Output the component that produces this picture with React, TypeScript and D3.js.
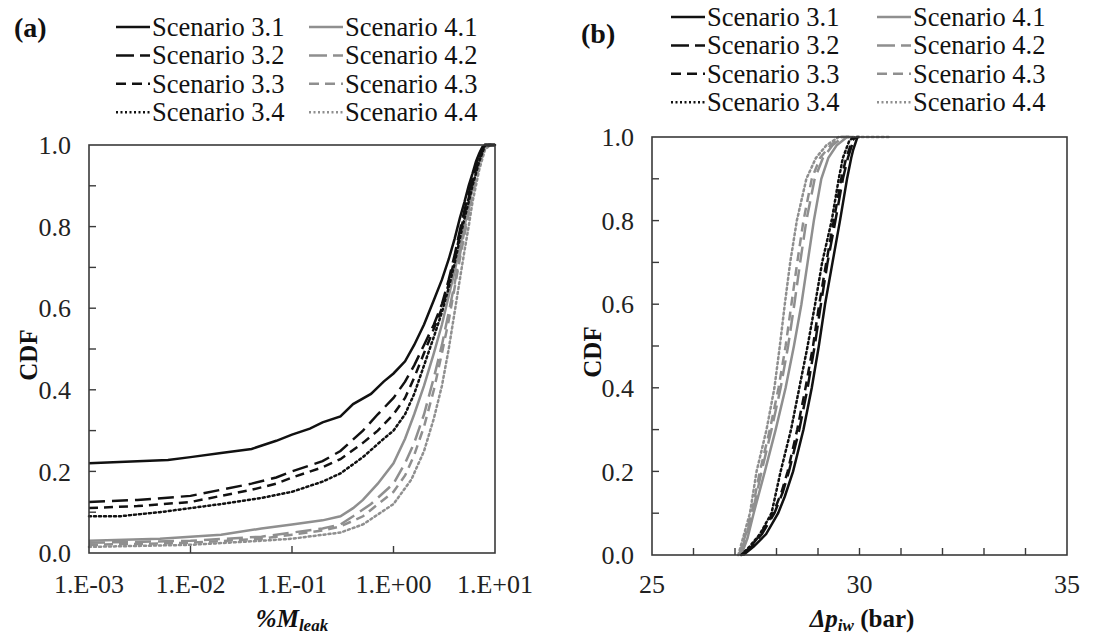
import React from "react";
import * as d3 from "d3";

// ---------- data ----------
const scenarioLabels = [
  "Scenario 3.1", "Scenario 3.2", "Scenario 3.3", "Scenario 3.4",
  "Scenario 4.1", "Scenario 4.2", "Scenario 4.3", "Scenario 4.4",
];

// panel (a): [%M_leak, CDF]
const leakS31: [number, number][] = [[1e-3,0.22],[3e-3,0.225],[6e-3,0.228],[0.01,0.235],[0.02,0.245],[0.04,0.255],[0.07,0.275],[0.1,0.29],[0.15,0.305],[0.2,0.32],[0.3,0.335],[0.4,0.365],[0.6,0.39],[0.8,0.42],[1.0,0.44],[1.3,0.47],[1.6,0.51],[2.0,0.56],[2.5,0.62],[3.0,0.67],[3.5,0.72],[4.0,0.77],[4.5,0.82],[5.0,0.86],[5.5,0.9],[6.0,0.93],[6.5,0.96],[7.0,0.98],[7.5,0.995],[8,1.0],[10,1.0]];
const leakS32: [number, number][] = [[1e-3,0.125],[3e-3,0.13],[0.01,0.14],[0.02,0.155],[0.04,0.17],[0.07,0.185],[0.1,0.2],[0.2,0.225],[0.3,0.25],[0.5,0.3],[0.7,0.34],[1.0,0.38],[1.3,0.42],[1.6,0.46],[2.0,0.51],[2.5,0.56],[3.0,0.61],[3.5,0.67],[4,0.73],[4.5,0.79],[5,0.84],[5.5,0.88],[6,0.92],[6.5,0.95],[7,0.98],[8,1.0],[10,1.0]];
const leakS33: [number, number][] = [[1e-3,0.11],[3e-3,0.115],[0.01,0.125],[0.02,0.14],[0.04,0.155],[0.07,0.17],[0.1,0.185],[0.2,0.21],[0.3,0.23],[0.5,0.27],[0.7,0.3],[1.0,0.34],[1.3,0.38],[1.6,0.43],[2.0,0.49],[2.5,0.55],[3.0,0.6],[3.5,0.66],[4,0.72],[4.5,0.78],[5,0.83],[5.5,0.87],[6,0.91],[7,0.97],[8,1.0],[10,1.0]];
const leakS34: [number, number][] = [[1e-3,0.09],[2e-3,0.09],[5e-3,0.1],[0.01,0.11],[0.02,0.12],[0.05,0.135],[0.1,0.15],[0.2,0.175],[0.3,0.195],[0.5,0.235],[0.8,0.28],[1.0,0.3],[1.3,0.34],[1.6,0.39],[2.0,0.46],[2.5,0.53],[3.0,0.59],[3.5,0.65],[4,0.71],[4.5,0.77],[5,0.82],[5.5,0.86],[6,0.9],[7,0.96],[8,1.0],[10,1.0]];
const leakS41: [number, number][] = [[1e-3,0.03],[5e-3,0.035],[0.01,0.04],[0.02,0.045],[0.05,0.06],[0.1,0.07],[0.2,0.08],[0.3,0.09],[0.4,0.11],[0.5,0.13],[0.7,0.17],[1.0,0.22],[1.3,0.28],[1.6,0.34],[2.0,0.41],[2.5,0.49],[3.0,0.56],[3.5,0.63],[4,0.69],[4.5,0.75],[5,0.8],[5.5,0.85],[6,0.9],[7,0.96],[8,1.0],[10,1.0]];
const leakS42: [number, number][] = [[1e-3,0.025],[0.01,0.03],[0.05,0.04],[0.1,0.05],[0.2,0.06],[0.3,0.07],[0.4,0.09],[0.6,0.12],[1.0,0.17],[1.3,0.22],[1.6,0.27],[2.0,0.34],[2.5,0.43],[3.0,0.51],[3.5,0.59],[4,0.66],[4.5,0.73],[5,0.79],[5.5,0.84],[6,0.89],[7,0.96],[8,1.0],[10,1.0]];
const leakS43: [number, number][] = [[1e-3,0.02],[0.01,0.025],[0.05,0.035],[0.1,0.045],[0.2,0.055],[0.3,0.065],[0.5,0.09],[1.0,0.15],[1.3,0.19],[1.6,0.24],[2.0,0.31],[2.5,0.4],[3.0,0.49],[3.5,0.57],[4,0.65],[4.5,0.72],[5,0.78],[5.5,0.83],[6,0.88],[7,0.95],[8,1.0],[10,1.0]];
const leakS44: [number, number][] = [[1e-3,0.015],[0.01,0.02],[0.05,0.03],[0.1,0.035],[0.3,0.05],[0.5,0.07],[1.0,0.12],[1.5,0.18],[2.0,0.25],[2.5,0.33],[3.0,0.41],[3.5,0.5],[4,0.59],[4.5,0.67],[5,0.74],[5.5,0.8],[6,0.86],[7,0.94],[8,0.99],[9,1.0],[10,1.0]];

// panel (b): [Δp_iw (bar), CDF]
const dpS31: [number, number][] = [[27.2,0],[27.45,0.02],[27.75,0.05],[28.04,0.1],[28.2,0.14],[28.4,0.2],[28.65,0.3],[28.85,0.4],[29.02,0.5],[29.17,0.6],[29.35,0.7],[29.53,0.8],[29.7,0.9],[29.8,0.95],[29.85,0.97],[29.95,1.0],[30.0,1.0]];
const dpS32: [number, number][] = [[27.18,0],[27.4,0.02],[27.65,0.05],[27.95,0.1],[28.15,0.15],[28.3,0.2],[28.55,0.3],[28.75,0.4],[28.92,0.5],[29.07,0.6],[29.23,0.7],[29.42,0.8],[29.6,0.9],[29.72,0.95],[29.85,0.99],[29.95,1.0]];
const dpS33: [number, number][] = [[27.16,0],[27.38,0.02],[27.62,0.05],[27.92,0.1],[28.12,0.15],[28.27,0.2],[28.5,0.3],[28.7,0.4],[28.88,0.5],[29.03,0.6],[29.2,0.7],[29.38,0.8],[29.56,0.9],[29.68,0.95],[29.82,0.99],[29.9,1.0]];
const dpS34: [number, number][] = [[27.15,0],[27.35,0.02],[27.6,0.05],[27.88,0.1],[28.1,0.2],[28.35,0.3],[28.55,0.4],[28.75,0.5],[28.93,0.6],[29.1,0.7],[29.33,0.8],[29.5,0.9],[29.6,0.95],[29.75,0.99],[29.85,1.0]];
const dpS41: [number, number][] = [[27.15,0],[27.3,0.04],[27.45,0.1],[27.72,0.2],[27.98,0.3],[28.22,0.4],[28.42,0.5],[28.6,0.6],[28.75,0.7],[28.9,0.8],[29.08,0.9],[29.25,0.95],[29.45,0.98],[29.7,1.0],[29.8,1.0]];
const dpS42: [number, number][] = [[27.12,0],[27.28,0.05],[27.42,0.1],[27.64,0.2],[27.88,0.3],[28.1,0.4],[28.28,0.5],[28.43,0.6],[28.57,0.7],[28.72,0.8],[28.92,0.9],[29.12,0.95],[29.35,0.98],[29.6,1.0],[29.7,1.0]];
const dpS43: [number, number][] = [[27.1,0],[27.26,0.05],[27.4,0.1],[27.6,0.2],[27.84,0.3],[28.05,0.4],[28.22,0.5],[28.36,0.6],[28.5,0.7],[28.65,0.8],[28.85,0.9],[29.05,0.95],[29.3,0.98],[29.55,1.0],[29.8,1.0]];
const dpS44: [number, number][] = [[27.08,0],[27.22,0.05],[27.36,0.1],[27.52,0.2],[27.76,0.3],[27.95,0.4],[28.08,0.5],[28.2,0.6],[28.33,0.7],[28.49,0.8],[28.72,0.9],[28.95,0.95],[29.2,0.98],[29.5,1.0],[30.7,1.0]];

const cdfTicks = [0, 0.2, 0.4, 0.6, 0.8, 1.0];
const cdfTickLabels = ["0.0", "0.2", "0.4", "0.6", "0.8", "1.0"];
const cdfMinorTicks = [0.1, 0.2, 0.3, 0.4, 0.5, 0.6, 0.7, 0.8, 0.9];
const leakTicks = [1e-3, 1e-2, 1e-1, 1, 10];
const leakTickLabels = ["1.E-03", "1.E-02", "1.E-01", "1.E+00", "1.E+01"];
const dpTicks = [25, 30, 35];
const dpTickLabels = ["25", "30", "35"];
const dpMinorTicks = [26, 27, 28, 29, 30, 31, 32, 33, 34];

// ---------- styles ----------
const BLACK = "#111";
const GRAY = "#8f8f8f";
const styles = [
  { color: BLACK, dash: "" },
  { color: BLACK, dash: "16 7" },
  { color: BLACK, dash: "9 6" },
  { color: BLACK, dash: "2 3" },
  { color: GRAY, dash: "" },
  { color: GRAY, dash: "16 7" },
  { color: GRAY, dash: "9 6" },
  { color: GRAY, dash: "2 3" },
];
const legendDash = ["", "18 6", "10 6", "2 2.5", "", "18 6", "10 6", "2 2.5"];
const FONT = "Liberation Serif, Times New Roman, serif";

type Pt = [number, number];

function Panel(props: {
  x: any; y: any; series: Pt[][]; xTicks: number[]; xTickLabels: string[];
  xMinor: number[]; letter: string; letterPos: [number, number];
  legendX: number; legendY: number; legendCol: number; xTitle: React.ReactNode; xTitleX: number;
  cdfX: number;
}) {
  const { x, y, series } = props;
  const [x0, x1] = x.range();
  const [y0, y1] = y.range(); // y0 bottom, y1 top
  const line = d3.line<Pt>().x((d) => x(d[0])).y((d) => y(d[1]));
  const order = [4, 5, 6, 7, 0, 1, 2, 3];
  return (
    <g>
      {order.map((i) => (
        <path key={i} d={line(series[i]) || ""} fill="none" stroke={styles[i].color}
          strokeWidth={2.5} strokeDasharray={styles[i].dash}
          strokeLinecap={i % 4 === 3 ? "round" : "butt"} />
      ))}
      <rect x={x0} y={y1} width={x1 - x0} height={y0 - y1} fill="none" stroke="#3a3a3a" strokeWidth={1.6} />
      {cdfMinorTicks.map((t) => (
        <line key={"ym" + t} x1={x0} x2={x0 + 7} y1={y(t)} y2={y(t)} stroke="#3a3a3a" strokeWidth={1.4} />
      ))}
      {cdfTicks.map((t, i) => (
        <text key={"yl" + t} x={x0 - 18} y={y(t)} dy="0.35em" textAnchor="end"
          fontFamily={FONT} fontSize={26} fill="#222">{cdfTickLabels[i]}</text>
      ))}
      {props.xMinor.map((t) => (
        <line key={"xm" + t} x1={x(t)} x2={x(t)} y1={y0} y2={y0 - 7} stroke="#3a3a3a" strokeWidth={1.4} />
      ))}
      {props.xTicks.map((t, i) => (
        <text key={"xl" + t} x={x(t)} y={593} textAnchor="middle"
          fontFamily={FONT} fontSize={26} fill="#222">{props.xTickLabels[i]}</text>
      ))}
      <text transform={`translate(${props.cdfX},${(y0 + y1) / 2 + 6}) rotate(-90)`} textAnchor="middle"
        fontFamily={FONT} fontSize={25} fontWeight="bold" fill="#111">CDF</text>
      <text x={props.xTitleX} y={627} textAnchor="middle" fontFamily={FONT} fontSize={25}
        fontWeight="bold" fill="#111">{props.xTitle}</text>
      <text x={props.letterPos[0]} y={props.letterPos[1]} fontFamily={FONT} fontSize={28}
        fontWeight="bold" fill="#111">{props.letter}</text>
      {scenarioLabels.map((lab, i) => {
        const col = Math.floor(i / 4);
        const row = i % 4;
        const lx = props.legendX + col * props.legendCol;
        const ly = props.legendY + row * 28.4;
        return (
          <g key={lab}>
            <line x1={lx} x2={lx + 34} y1={ly} y2={ly} stroke={styles[i].color}
              strokeWidth={2.5} strokeDasharray={legendDash[i]} />
            <text x={lx + 36} y={ly} dy="0.33em" fontFamily={FONT} fontSize={26.5} fill="#111">{lab}</text>
          </g>
        );
      })}
    </g>
  );
}

export default function App() {
  const xLeft = d3.scaleLog().domain([1e-3, 10]).range([89, 495]);
  const yLeft = d3.scaleLinear().domain([0, 1]).range([553, 145]);
  const xRight = d3.scaleLinear().domain([25, 35]).range([652, 1067]);
  const yRight = d3.scaleLinear().domain([0, 1]).range([555, 137]);
  return (
    <svg width={1114} height={639} style={{ position: "absolute", left: 0, top: 0, background: "#fff" }}>
      <rect width={1114} height={639} fill="#fff" />
      <Panel x={xLeft} y={yLeft}
        series={[leakS31, leakS32, leakS33, leakS34, leakS41, leakS42, leakS43, leakS44]}
        xTicks={leakTicks} xTickLabels={leakTickLabels} xMinor={[1e-2, 1e-1, 1]}
        letter="(a)" letterPos={[14, 37]} legendX={116} legendY={27} legendCol={193}
        xTitle={<tspan fontStyle="italic">%M<tspan fontSize={17} dy={4}>leak</tspan></tspan>}
        xTitleX={292} cdfX={37} />
      <Panel x={xRight} y={yRight}
        series={[dpS31, dpS32, dpS33, dpS34, dpS41, dpS42, dpS43, dpS44]}
        xTicks={dpTicks} xTickLabels={dpTickLabels} xMinor={dpMinorTicks}
        letter="(b)" letterPos={[581, 43]} legendX={671} legendY={17} legendCol={206}
        xTitle={<tspan><tspan fontStyle="italic">Δp<tspan fontSize={17} dy={4}>iw</tspan></tspan><tspan dy={-4}> (bar)</tspan></tspan>}
        xTitleX={862} cdfX={601} />
    </svg>
  );
}
